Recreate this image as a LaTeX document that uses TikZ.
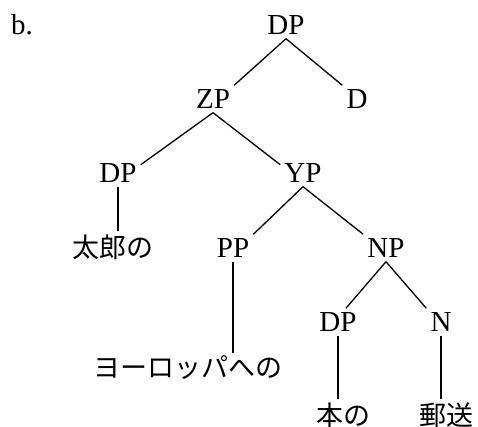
\documentclass[tikz,border=0pt]{standalone}
\usepackage{fontspec}
\setmainfont{Liberation Serif}
\newfontfamily\jafont{Noto Sans CJK JP}
\usetikzlibrary{positioning}

\begin{document}
\begin{tikzpicture}[on grid,
    every node/.style={font=\fontsize{29}{30}\selectfont, inner sep=4pt},
    word/.style={font=\fontsize{27}{30}\selectfont\jafont, inner sep=3pt},
    branch/.style={line width=1.3pt}]
        % NODES
        % -----------------
        \useasboundingbox (0pt,0pt) rectangle (478pt,-427pt);

        \node (dp_top) at (286pt,-25pt) {DP};
        \node[left=264pt of dp_top] (item) {b.};

        \node[below left=74pt and 73pt of dp_top] (zp) {ZP};
        \node[below right=74pt and 71pt of dp_top] (d) {D};

        \node[below left=74pt and 95pt of zp] (dp_l) {DP};
        \node[below right=74pt and 90pt of zp] (yp) {YP};

        \node[word, below=74pt of dp_l, xshift=-5pt] (taro) {太郎の};

        \node[below left=75pt and 70pt of yp] (pp) {PP};
        \node[below right=75pt and 83pt of yp] (np) {NP};

        \node[word, below=120pt of pp, xshift=-45pt] (europe) {ヨーロッパへの};

        \node[below left=74pt and 48pt of np] (dp_b) {DP};
        \node[below right=74pt and 55pt of np] (n) {N};

        \node[word, below=93pt of dp_b, xshift=5pt] (hon) {本の};
        \node[word, below=93pt of n, xshift=5pt] (yuso) {郵送};

        % EDGES
        % -----------------
        \draw[branch] (dp_top.south) -- (zp.north east);
        \draw[branch] (dp_top.south) -- (d.north west);

        \draw[branch] (zp.south) -- (dp_l.20);
        \draw[branch] (zp.south) -- (yp.160);
        \draw[branch] (dp_l.south) -- (taro.north -| dp_l.south);

        \draw[branch] (yp.south) -- (pp.north east);
        \draw[branch] (yp.south) -- (np.north west);
        \draw[branch] (pp.south) -- (pp.south |- europe.north);

        \draw[branch] (np.south) -- (dp_b.60);
        \draw[branch] (np.south) -- (n.north west);
        \draw[branch] (dp_b.south) -- (dp_b.south |- hon.north);
        \draw[branch] (n.south) -- (n.south |- yuso.north);

    \end{tikzpicture}
\end{document}
